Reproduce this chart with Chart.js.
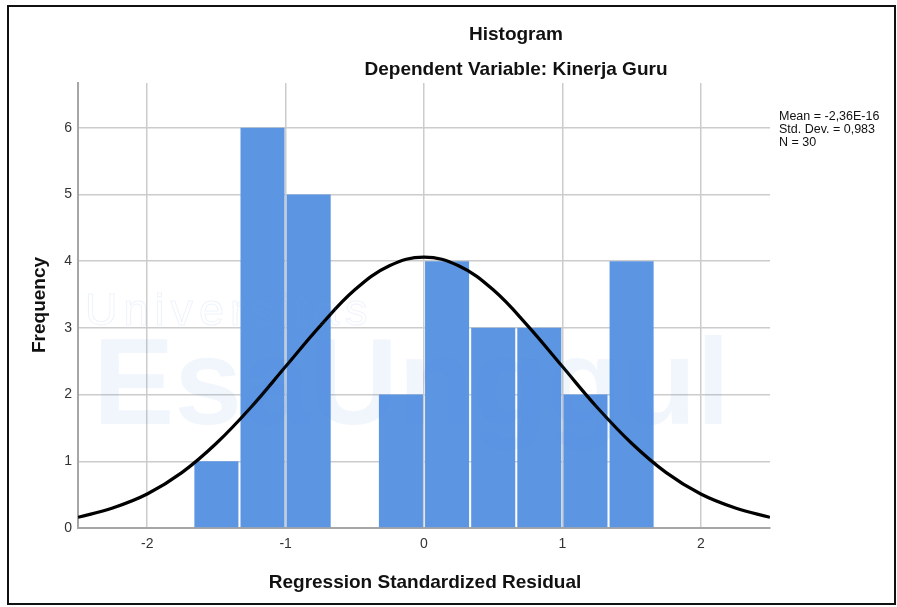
<!DOCTYPE html>
<html>
<head>
<meta charset="utf-8">
<script src="https://cdn.jsdelivr.net/npm/chart.js@4.4.1/dist/chart.umd.min.js"></script>
<style>
  html, body { margin: 0; padding: 0; background: #ffffff; }
  #wrap { position: relative; width: 897px; height: 607px; overflow: hidden; background: #fff;
          font-family: "Liberation Sans", Arial, sans-serif; }
  #frame { position: absolute; left: 7px; top: 5px; width: 889px; height: 600px;
           box-sizing: border-box; border: 2px solid #111; }
  #c { position: absolute; left: 0; top: 0; }
  .t { position: absolute; white-space: nowrap; color: #111; font-weight: bold; font-size: 19px; line-height: 19px; }
  .wm { position: absolute; white-space: nowrap; pointer-events: none; }
  #stats { position: absolute; left: 779px; top: 110.4px; font-size: 12.5px; line-height: 12.7px; color: #111; white-space: pre; }
</style>
</head>
<body>
<div id="wrap">
  <canvas id="c" width="897" height="607"></canvas>
  <div class="wm" style="left:85px; top:287px; font-size:45px; line-height:45px; letter-spacing:6px; color:transparent; -webkit-text-stroke:1px rgba(120,160,225,0.13);">Universitas</div>
  <div class="wm" style="left:93px; top:321px; font-size:122px; line-height:122px; font-weight:bold; color:rgba(70,140,230,0.075);">EsaUnggul</div>
  <div id="frame"></div>
  <div class="t" id="t1" style="left:516px; top:23.7px; transform:translateX(-50%);">Histogram</div>
  <div class="t" id="t2" style="left:516px; top:58.7px; transform:translateX(-50%);">Dependent Variable: Kinerja Guru</div>
  <div class="t" id="xt" style="left:425px; top:571.7px; transform:translateX(-50%);">Regression Standardized Residual</div>
  <div class="t" id="yt" style="left:38px; top:305px; transform:translate(-50%,-50%) rotate(-90deg);">Frequency</div>
  <div id="stats">Mean = -2,36E-16
Std. Dev. = 0,983
N = 30</div>
</div>
<script>
// Histogram bins (bin centres, width 1/3) and frequencies
const binCenters = [-1.5, -1.1667, -0.8333, -0.5, -0.1667, 0.1667, 0.5, 0.8333, 1.1667, 1.5];
const frequencies = [1, 6, 5, 0, 2, 4, 3, 3, 2, 4];

// Normal curve
const curveX = [-2.5, -2.25, -2, -1.75, -1.5, -1.25, -1, -0.75, -0.5, -0.25, 0, 0.25, 0.5, 0.75, 1, 1.25, 1.5, 1.75, 2, 2.25, 2.5];
const curveY = [0.16, 0.30, 0.51, 0.83, 1.27, 1.81, 2.42, 3.03, 3.57, 3.93, 4.06, 3.93, 3.57, 3.03, 2.42, 1.81, 1.27, 0.83, 0.51, 0.30, 0.16];

// Tick labels
const xTicks = [-2, -1, 0, 1, 2];
const yTicks = [0, 1, 2, 3, 4, 5, 6];

const barData = binCenters.map((x, i) => ({ x: x, y: frequencies[i] }));
const lineData = curveX.map((x, i) => ({ x: x, y: curveY[i] }));

new Chart(document.getElementById('c'), {
  type: 'bar',
  data: {
    datasets: [
      {
        type: 'line',
        data: lineData,
        borderColor: '#000000',
        borderWidth: 3.2,
        pointRadius: 0,
        tension: 0.4,
        fill: false,
        order: 0
      },
      {
        type: 'bar',
        data: barData,
        backgroundColor: 'rgb(92,150,226)',
        borderWidth: 0,
        categoryPercentage: 1.0,
        barPercentage: 0.955,
        order: 1
      }
    ]
  },
  options: {
    responsive: false,
    animation: false,
    devicePixelRatio: 1,
    layout: { padding: { left: 0, right: 127, top: 83, bottom: 0 } },
    plugins: { legend: { display: false }, tooltip: { enabled: false }, title: { display: false } },
    scales: {
      x: {
        type: 'linear',
        min: -2.5,
        max: 2.5,
        offset: false,
        afterBuildTicks: (s) => { s.ticks = xTicks.map(v => ({ value: v })); },
        afterFit: (s) => { s.height = 79; },
        grid: { color: '#cccccc', lineWidth: 1.5, drawTicks: false, offset: false },
        border: { color: '#a6a6a6', width: 2 },
        ticks: { color: '#333333', padding: 8, font: { family: '"Liberation Sans", Arial, sans-serif', size: 14 }, maxRotation: 0 }
      },
      y: {
        type: 'linear',
        min: 0,
        max: 6.67,
        afterBuildTicks: (s) => { s.ticks = yTicks.map(v => ({ value: v })); },
        afterFit: (s) => { s.width = 78; },
        grid: { color: '#cccccc', lineWidth: 1.5, drawTicks: false },
        border: { color: '#a6a6a6', width: 2 },
        ticks: { color: '#333333', padding: 6, font: { family: '"Liberation Sans", Arial, sans-serif', size: 14 } }
      }
    }
  }
});
</script>
</body>
</html>
